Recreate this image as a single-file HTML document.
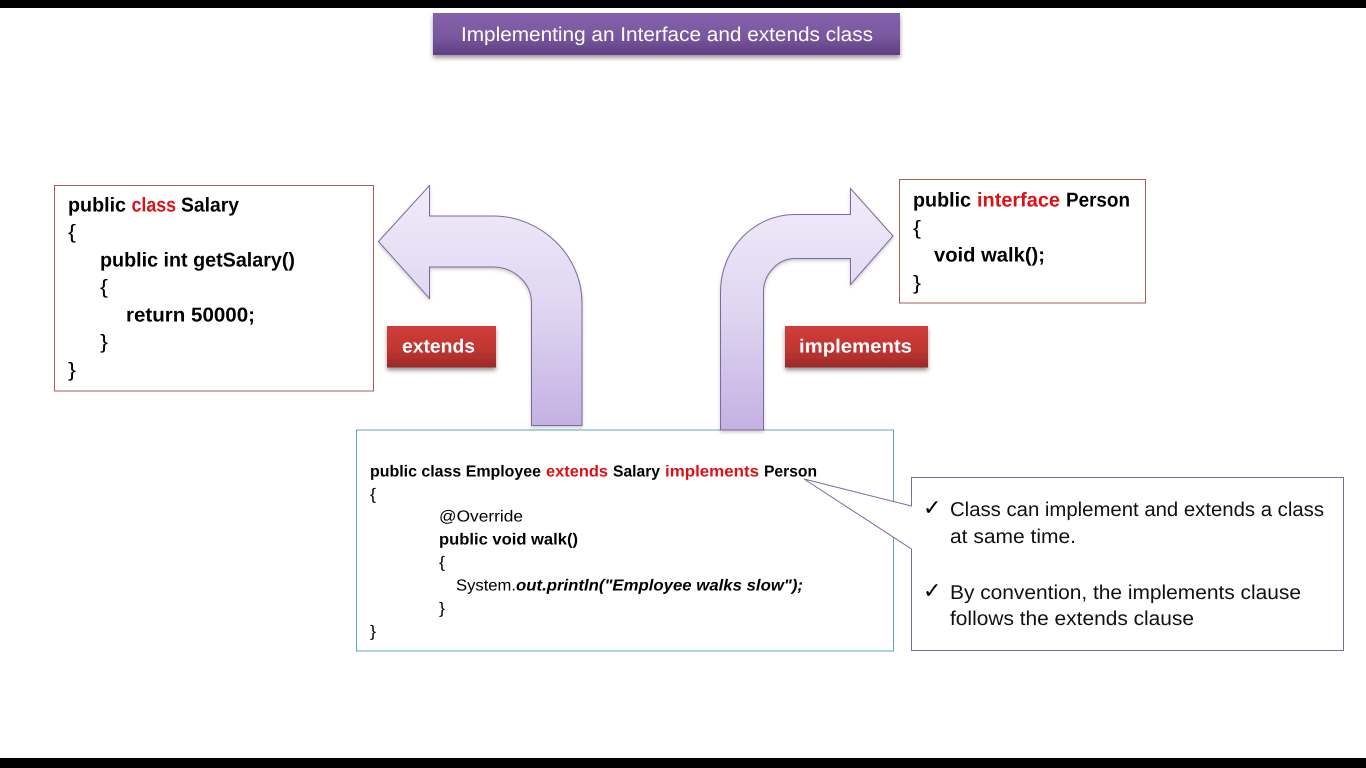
<!DOCTYPE html>
<html lang="en">
<head>
<meta charset="utf-8">
<title>Implementing an Interface and extends class</title>
<style>
html,body{margin:0;padding:0;background:#fff;width:1366px;height:768px;overflow:hidden}
svg{display:block}
text{font-family:"Liberation Sans",sans-serif;fill:#000;text-rendering:geometricPrecision}
.b{font-weight:bold}
.r{fill:#e00f14}
.c{font-size:20px;font-weight:bold}
.e{font-size:16px}
.n{font-size:20px;fill:#111}
.k{font-family:"DejaVu Sans",sans-serif;font-size:22px;font-weight:bold}
</style>
</head>
<body>
<svg width="1366" height="768" viewBox="0 0 1366 768" xmlns="http://www.w3.org/2000/svg">
<defs>
<linearGradient id="pu" x1="0" y1="0" x2="0" y2="1"><stop offset="0" stop-color="#8460aa"/><stop offset="0.55" stop-color="#7a58a0"/><stop offset="1" stop-color="#5e3f80"/></linearGradient>
<linearGradient id="re" x1="0" y1="0" x2="0" y2="1"><stop offset="0" stop-color="#cf3d3a"/><stop offset="0.55" stop-color="#c13633"/><stop offset="1" stop-color="#9b2a28"/></linearGradient>
<linearGradient id="ar" x1="0" y1="0" x2="0" y2="1"><stop offset="0" stop-color="#f0ecfa"/><stop offset="0.5" stop-color="#e0d6f1"/><stop offset="1" stop-color="#c4b1e3"/></linearGradient>
<filter id="sh" x="-10%" y="-20%" width="120%" height="150%"><feDropShadow dx="0" dy="3" stdDeviation="2" flood-color="#000" flood-opacity="0.4"/></filter>
<filter id="sa" x="-10%" y="-10%" width="120%" height="120%"><feDropShadow dx="0" dy="2" stdDeviation="1.5" flood-color="#000" flood-opacity="0.2"/></filter>
</defs>

<rect x="0" y="0" width="1366" height="8" fill="#000"/>
<rect x="0" y="758" width="1366" height="10" fill="#000"/>

<rect x="433" y="13" width="467" height="42" fill="url(#pu)" filter="url(#sh)"/>
<text x="461" y="41" font-size="20" style="fill:#fff" textLength="412" lengthAdjust="spacingAndGlyphs">Implementing an Interface and extends class</text>

<rect x="54.5" y="185.5" width="319" height="205.5" fill="#fff" stroke="#a85c5a" stroke-width="1"/>
<text class="c" x="68" y="211.5" textLength="58" lengthAdjust="spacingAndGlyphs">public</text>
<text class="c r" x="131.5" y="211.5" textLength="44.5" lengthAdjust="spacingAndGlyphs">class</text>
<text class="c" x="181" y="211.5" textLength="58" lengthAdjust="spacingAndGlyphs">Salary</text>
<text x="68" y="238.5" font-size="20" textLength="8" lengthAdjust="spacingAndGlyphs">{</text>
<text class="c" x="100" y="266.5" textLength="195" lengthAdjust="spacingAndGlyphs">public int getSalary()</text>
<text x="100" y="293.5" font-size="20" textLength="8" lengthAdjust="spacingAndGlyphs">{</text>
<text class="c" x="126" y="321.5" textLength="129" lengthAdjust="spacingAndGlyphs">return 50000;</text>
<text x="100" y="348.5" font-size="20" textLength="8" lengthAdjust="spacingAndGlyphs">}</text>
<text x="68" y="376.5" font-size="20" textLength="8" lengthAdjust="spacingAndGlyphs">}</text>

<rect x="899.5" y="179.5" width="246" height="123.5" fill="#fff" stroke="#a85c5a" stroke-width="1"/>
<text class="c" x="913" y="206.5" textLength="58" lengthAdjust="spacingAndGlyphs">public</text>
<text class="c r" x="977" y="206.5" textLength="83" lengthAdjust="spacingAndGlyphs">interface</text>
<text class="c" x="1066" y="206.5" textLength="64" lengthAdjust="spacingAndGlyphs">Person</text>
<text x="913" y="234.5" font-size="20" textLength="8" lengthAdjust="spacingAndGlyphs">{</text>
<text class="c" x="934" y="261.5" textLength="111" lengthAdjust="spacingAndGlyphs">void walk();</text>
<text x="913" y="289.5" font-size="20" textLength="8" lengthAdjust="spacingAndGlyphs">}</text>

<rect x="387" y="326" width="109" height="41.5" fill="url(#re)" filter="url(#sh)"/>
<text x="402" y="352.5" font-size="19" class="b" style="fill:#fff" textLength="73" lengthAdjust="spacingAndGlyphs">extends</text>
<rect x="785" y="326" width="143" height="41.5" fill="url(#re)" filter="url(#sh)"/>
<text x="799" y="352.5" font-size="19" class="b" style="fill:#fff" textLength="113" lengthAdjust="spacingAndGlyphs">implements</text>

<rect x="356.5" y="430" width="537" height="221" fill="#fff" stroke="#5fa7b3" stroke-width="1"/>
<text class="e b" x="370" y="476.5" textLength="171" lengthAdjust="spacingAndGlyphs">public class Employee</text>
<text class="e b r" x="546" y="476.5" textLength="62" lengthAdjust="spacingAndGlyphs">extends</text>
<text class="e b" x="613" y="476.5" textLength="47" lengthAdjust="spacingAndGlyphs">Salary</text>
<text class="e b r" x="665" y="476.5" textLength="94" lengthAdjust="spacingAndGlyphs">implements</text>
<text class="e b" x="764" y="476.5" textLength="53" lengthAdjust="spacingAndGlyphs">Person</text>
<text class="e" x="370" y="499.5" textLength="6" lengthAdjust="spacingAndGlyphs">{</text>
<text class="e" x="439" y="521.5" textLength="84" lengthAdjust="spacingAndGlyphs">@Override</text>
<text class="e b" x="439" y="544.5" textLength="139" lengthAdjust="spacingAndGlyphs">public void walk()</text>
<text class="e" x="439" y="567.5" textLength="6" lengthAdjust="spacingAndGlyphs">{</text>
<text class="e" x="456" y="590.5" textLength="60" lengthAdjust="spacingAndGlyphs">System.</text>
<text class="e b" font-style="italic" x="516" y="590.5" textLength="287" lengthAdjust="spacingAndGlyphs">out.println("Employee walks slow");</text>
<text class="e" x="439" y="613.5" textLength="6" lengthAdjust="spacingAndGlyphs">}</text>
<text class="e" x="370" y="636.5" textLength="6" lengthAdjust="spacingAndGlyphs">}</text>

<path d="M378.5 241.5 L429.5 185.5 L429.5 216 L493 216 C541 216 582 255 582 303 L582 425.5 L531.5 425.5 L531.5 303 C531.5 283 514 267 493 267 L429.5 267 L429.5 298.5 Z" fill="url(#ar)" stroke="#7c6a9c" stroke-width="1" filter="url(#sa)"/>
<path d="M893 236 L850.5 188.5 L850.5 214.5 L795 214.5 C754 214.5 720.5 249 720.5 292 L720.5 430 L763.5 430 L763.5 292 C763.5 274 778 258.5 795 258.5 L850.5 258.5 L850.5 284.5 Z" fill="url(#ar)" stroke="#7c6a9c" stroke-width="1" filter="url(#sa)"/>

<path d="M911.5 477.5 L1343.5 477.5 L1343.5 650.5 L911.5 650.5 L911.5 549 L804 479 L911.5 506 Z" fill="#fff" stroke="#7b6a9b" stroke-width="1"/>
<text class="k" x="923" y="515">✓</text>
<text class="n" x="950" y="516" textLength="374" lengthAdjust="spacingAndGlyphs">Class can implement and extends a class</text>
<text class="n" x="950" y="543" textLength="126" lengthAdjust="spacingAndGlyphs">at same time.</text>
<text class="k" x="923" y="598">✓</text>
<text class="n" x="950" y="599" textLength="351" lengthAdjust="spacingAndGlyphs">By convention, the implements clause</text>
<text class="n" x="950" y="625" textLength="244" lengthAdjust="spacingAndGlyphs">follows the extends clause</text>
</svg>
</body>
</html>
